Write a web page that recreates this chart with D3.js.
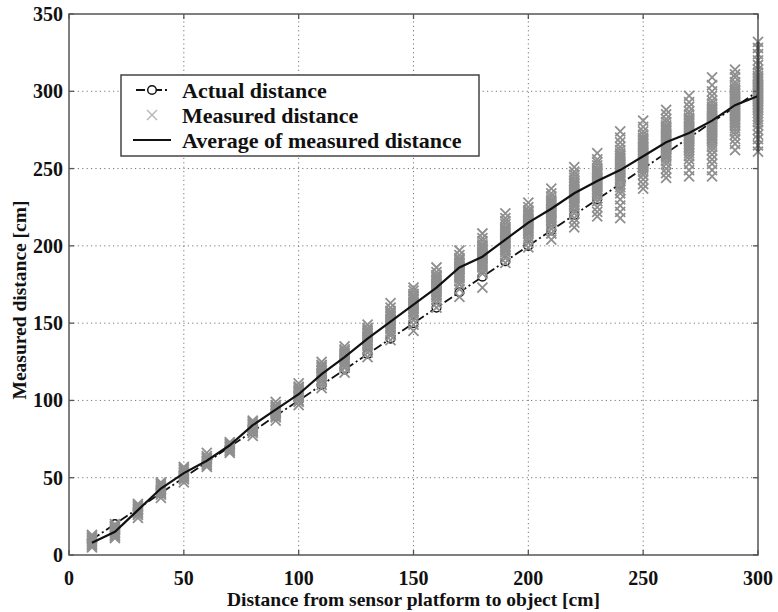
<!DOCTYPE html>
<html>
<head>
<meta charset="utf-8">
<script src="https://cdn.jsdelivr.net/npm/d3@7"></script>
<style>
  html, body { margin: 0; padding: 0; background: #fff; }
  svg text { font-family: "Liberation Serif", "Times New Roman", serif; font-weight: bold; fill: #111; }
</style>
</head>
<body>
<svg id="chart" width="778" height="612"></svg>
<script>
// ---------- data ----------
const distances = [10,20,30,40,50,60,70,80,90,100,110,120,130,140,150,160,170,180,190,200,210,220,230,240,250,260,270,280,290,300];
const actualDistance = [10,20,30,40,50,60,70,80,90,100,110,120,130,140,150,160,170,180,190,200,210,220,230,240,250,260,270,280,290,300];
const averageMeasured = [8,15,29,43,53,61,71,84,94,104,117,128,140,151,162,173,186,193,204,215,224,234,242,249,258,267,273,281,291,297];
const measuredDistance = [
  [5,6,7,8,9,10,11,12,13],
  [11,12,13,14,15,16,17,18,19,20],
  [24,26,27,28,29,30,31,32,33],
  [37,39,40,41,42,43,44,45,46,47],
  [47,49,50,51,52,53,54,55,56,57],
  [57,58,59,60,61,62,63,64,66],
  [66,67,68,69,70,71,72,73],
  [77,79,80,81,82,83,84,85,86,87],
  [87,89,90,91,92,93,94,95,96,97,99],
  [97,99,100,102,103,104,105,106,107,108,109,111],
  [108,110,112,113,115,116,117,118,119,120,121,122,123,125],
  [118,121,122,124,125,126,127,128,129,130,131,132,133,135],
  [128,131,133,135,136,137,138,139,140,141,142,143,144,145,146,147,149],
  [139,142,144,146,147,148,149,150,151,152,153,154,155,156,157,158,160,163],
  [145,149,152,154,156,157,158,159,160,161,162,163,164,165,166,167,168,169,171,173],
  [160,163,165,167,168,169,170,171,172,173,174,175,176,177,178,179,180,181,183,186],
  [167,172,175,177,179,180,181,182,183,184,185,186,187,188,189,190,191,192,194,197],
  [173,182,184,186,187,188,189,190,191,192,193,194,195,196,197,198,199,200,201,203,205,208],
  [189,192,194,196,197,198,199,200,201,202,203,204,205,206,207,208,209,210,211,212,214,216,218,221],
  [199,202,204,206,208,209,210,211,212,213,214,215,216,217,218,219,220,221,222,223,225,228],
  [204,208,211,213,215,216,217,218,219,220,221,222,223,224,225,226,227,228,229,230,232,234,237],
  [212,215,218,221,223,225,226,227,228,229,230,231,232,233,234,235,236,237,238,239,240,241,242,244,246,248,251],
  [219,222,225,229,231,233,234,235,236,237,238,239,240,241,242,243,244,245,246,247,248,249,250,252,254,256,260],
  [218,222,226,230,234,236,238,240,242,243,244,245,246,247,248,249,250,251,252,253,254,255,256,257,258,259,260,262,264,267,270,274],
  [237,240,243,246,248,250,251,252,253,254,255,256,257,258,259,260,261,262,263,264,265,266,267,268,269,270,272,274,277,281],
  [244,247,250,253,255,257,258,259,260,261,262,263,264,265,266,267,268,269,270,271,272,273,274,275,276,277,278,280,282,285,288],
  [245,249,253,256,258,260,262,263,264,265,266,267,268,269,270,271,272,273,274,275,276,277,278,279,280,281,282,283,285,287,290,293,297],
  [245,249,253,256,259,262,264,266,268,269,270,271,272,273,274,275,276,277,278,279,280,281,282,283,284,285,286,287,288,289,290,292,294,297,300,304,309],
  [262,266,269,272,274,276,278,279,280,281,282,283,284,285,286,287,288,289,290,291,292,293,294,295,296,297,298,299,300,301,302,304,306,309,311,314],
  [261,265,269,272,275,278,280,282,284,286,288,289,290,291,292,293,294,295,296,297,298,299,300,301,302,303,304,305,306,307,308,309,310,312,314,317,320,324,328,332]
];
const xTicks = [0,50,100,150,200,250,300];
const yTicks = [0,50,100,150,200,250,300,350];
const seriesNames = ["Actual distance","Measured distance","Average of measured distance"];
const xTitle = "Distance from sensor platform to object [cm]";
const yTitle = "Measured distance [cm]";

// ---------- layout ----------
const svg = d3.select("#chart");
const L = 69, R = 758, T = 14, B = 555;
const x = d3.scaleLinear().domain([0,300]).range([L,R]);
const y = d3.scaleLinear().domain([0,350]).range([B,T]);
const markerGray = "#8f8f8f";

// grid
const grid = svg.append("g");
grid.selectAll("line.gx").data(xTicks.filter(d => d > 0 && d < 300)).join("line")
  .attr("x1", d => x(d)).attr("x2", d => x(d)).attr("y1", B).attr("y2", T)
  .attr("stroke", "#777").attr("stroke-width", 1).attr("stroke-dasharray", "1.2,3.2");
grid.selectAll("line.gy").data(yTicks.filter(d => d > 0 && d < 350)).join("line")
  .attr("y1", d => y(d)).attr("y2", d => y(d)).attr("x1", L).attr("x2", R)
  .attr("stroke", "#777").attr("stroke-width", 1).attr("stroke-dasharray", "1.2,3.2");

// actual distance (dashed + circles)
const actualPts = distances.map((d,i) => [d, actualDistance[i]]);
svg.append("path").datum(actualPts)
  .attr("d", d3.line().x(d => x(d[0])).y(d => y(d[1])))
  .attr("fill", "none").attr("stroke", "#111").attr("stroke-width", 1.8)
  .attr("stroke-dasharray", "9,3,2,3");
svg.append("g").selectAll("circle").data(actualPts).join("circle")
  .attr("cx", d => x(d[0])).attr("cy", d => y(d[1])).attr("r", 4.3)
  .attr("fill", "#fff").attr("stroke", "#111").attr("stroke-width", 1.5);

// measured distance (x markers)
const measuredPts = [];
distances.forEach((d,i) => measuredDistance[i].forEach(v => measuredPts.push([d, v])));
const xMark = "M-5,-5L5,5M-5,5L5,-5";
svg.append("g").selectAll("path").data(measuredPts).join("path")
  .attr("d", xMark)
  .attr("transform", d => `translate(${x(d[0])},${y(d[1])})`)
  .attr("fill", "none").attr("stroke", markerGray).attr("stroke-width", 1.8);

// average line
const avgPts = distances.map((d,i) => [d, averageMeasured[i]]);
svg.append("path").datum(avgPts)
  .attr("d", d3.line().x(d => x(d[0])).y(d => y(d[1])))
  .attr("fill", "none").attr("stroke", "#111").attr("stroke-width", 2.2);
// black spread line at last distance
const last = measuredDistance[measuredDistance.length - 1];
svg.append("line")
  .attr("x1", x(distances[distances.length-1])).attr("x2", x(distances[distances.length-1]))
  .attr("y1", y(d3.min(last))).attr("y2", y(d3.max(last)))
  .attr("stroke", "#111").attr("stroke-width", 2.5);

// frame + ticks
svg.append("rect").attr("x", L).attr("y", T).attr("width", R-L).attr("height", B-T)
  .attr("fill", "none").attr("stroke", "#555").attr("stroke-width", 1.5);
const tl = 5;
const ticks = svg.append("g").attr("stroke", "#555").attr("stroke-width", 1.3);
xTicks.forEach(t => {
  ticks.append("line").attr("x1", x(t)).attr("x2", x(t)).attr("y1", B).attr("y2", B - tl);
  ticks.append("line").attr("x1", x(t)).attr("x2", x(t)).attr("y1", T).attr("y2", T + tl);
});
yTicks.forEach(t => {
  ticks.append("line").attr("y1", y(t)).attr("y2", y(t)).attr("x1", L).attr("x2", L + tl);
  ticks.append("line").attr("y1", y(t)).attr("y2", y(t)).attr("x1", R).attr("x2", R - tl);
});

// tick labels
svg.append("g").selectAll("text").data(xTicks).join("text")
  .attr("x", d => x(d)).attr("y", 585).attr("text-anchor", "middle")
  .attr("font-size", 20).text(d => d);
svg.append("g").selectAll("text").data(yTicks).join("text")
  .attr("x", 63).attr("y", d => y(d)).attr("dy", "0.35em").attr("text-anchor", "end")
  .attr("font-size", 20).text(d => d);

// axis titles
svg.append("text").attr("x", (L+R)/2).attr("y", 606).attr("text-anchor", "middle")
  .attr("font-size", 19.5).text(xTitle);
svg.append("text").attr("transform", "translate(26,300) rotate(-90)")
  .attr("text-anchor", "middle").attr("font-size", 19.5).text(yTitle);

// legend
const lg = svg.append("g");
lg.append("rect").attr("x", 121).attr("y", 75).attr("width", 358).attr("height", 81)
  .attr("fill", "#fff").attr("stroke", "#444").attr("stroke-width", 1.5);
const rowY = [90, 115, 140];
// actual
lg.append("line").attr("x1", 136).attr("x2", 170).attr("y1", rowY[0]).attr("y2", rowY[0])
  .attr("stroke", "#111").attr("stroke-width", 1.8).attr("stroke-dasharray", "9,3,2,3");
lg.append("circle").attr("cx", 152).attr("cy", rowY[0]).attr("r", 4.3)
  .attr("fill", "#fff").attr("stroke", "#111").attr("stroke-width", 1.5);
// measured
lg.append("path").attr("d", xMark).attr("transform", `translate(152,${rowY[1]})`)
  .attr("fill", "none").attr("stroke", "#b5b5b5").attr("stroke-width", 1.4);
// average
lg.append("line").attr("x1", 133).attr("x2", 171).attr("y1", rowY[2]).attr("y2", rowY[2])
  .attr("stroke", "#111").attr("stroke-width", 2.2);
lg.selectAll("text").data(seriesNames).join("text")
  .attr("x", 182).attr("y", (d,i) => rowY[i]).attr("dy", "0.35em")
  .attr("font-size", 22).text(d => d);
</script>
</body>
</html>
